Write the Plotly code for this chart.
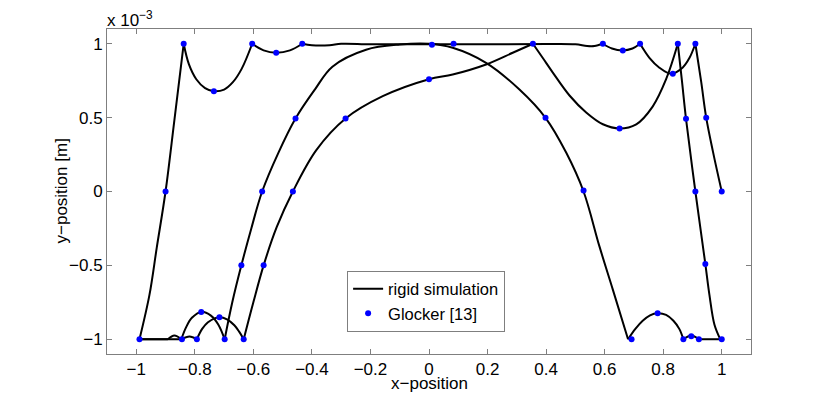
import plotly.graph_objects as go

# trajectories (x, y in 1e-3 m); each flight between impacts is a separate segment
t1_x = [[-0.989, -0.955, -0.93, -0.9, -0.87, -0.838],
        [-0.838, -0.82, -0.795, -0.765, -0.735, -0.70, -0.67, -0.64, -0.604],
        [-0.604, -0.565, -0.522, -0.475, -0.433],
        [-0.433, -0.40, -0.34, -0.30, -0.20, 0.0, 0.20, 0.40, 0.50, 0.54, 0.565, 0.594],
        [0.594, 0.625, 0.662, 0.695, 0.721],
        [0.721, 0.753, 0.787, 0.827, 0.867, 0.89, 0.91],
        [0.91, 0.93, 0.947, 0.97, 1.0]]
t1_y = [[-1, -0.70, -0.38, 0.0, 0.48, 1],
        [1, 0.86, 0.76, 0.70, 0.679, 0.69, 0.74, 0.83, 1],
        [1, 0.955, 0.939, 0.955, 1],
        [1, 0.99, 0.99, 1.0, 0.997, 0.997, 0.997, 0.998, 0.996, 0.985, 0.985, 1],
        [1, 0.968, 0.955, 0.968, 1],
        [1, 0.905, 0.838, 0.797, 0.84, 0.905, 1],
        [1, 0.74, 0.50, 0.27, 0.0]]

t2_x = [[-0.989, -0.892],
        [-0.892, -0.87, -0.846],
        [-0.846, -0.83, -0.81, -0.778, -0.745, -0.72, -0.698],
        [-0.698, -0.672, -0.641, -0.607, -0.57, -0.515, -0.456, -0.39, -0.33, -0.215,
         -0.10, 0.0, 0.081, 0.195, 0.309, 0.398, 0.469, 0.528, 0.582, 0.628, 0.68],
        [0.68, 0.705, 0.73, 0.755, 0.781, 0.81, 0.835, 0.855, 0.869],
        [0.869, 0.896, 0.922],
        [0.922, 1.0]]
t2_y = [[-1, -1],
        [-1, -0.975, -1],
        [-1, -0.92, -0.855, -0.815, -0.84, -0.90, -1],
        [-1, -0.75, -0.5, -0.25, 0.0, 0.26, 0.494, 0.69, 0.845, 0.96,
         0.995, 1.0, 0.973, 0.871, 0.69, 0.499, 0.262, 0.0, -0.37, -0.664, -1],
        [-1, -0.93, -0.875, -0.838, -0.824, -0.835, -0.875, -0.93, -1],
        [-1, -0.975, -1],
        [-1, -1]]

t3_x = [[-0.989, -0.846],
        [-0.846, -0.818, -0.793],
        [-0.793, -0.775, -0.755, -0.73, -0.716, -0.69, -0.665, -0.648, -0.633],
        [-0.633, -0.60, -0.565, -0.52, -0.465, -0.385, -0.285, -0.158, 0.0, 0.081,
         0.195, 0.286, 0.355],
        [0.355, 0.39, 0.423, 0.48, 0.537, 0.594, 0.651, 0.708, 0.764, 0.81, 0.85],
        [0.85, 0.864, 0.878, 0.91, 0.944, 0.958, 0.975, 0.995]]
t3_y = [[-1, -1],
        [-1, -0.982, -1],
        [-1, -0.93, -0.885, -0.857, -0.851, -0.865, -0.905, -0.95, -1],
        [-1, -0.75, -0.5, -0.24, 0.0, 0.28, 0.494, 0.645, 0.76, 0.792,
         0.86, 0.939, 1],
        [1, 0.90, 0.805, 0.65, 0.535, 0.455, 0.427, 0.455, 0.575, 0.76, 1],
        [1, 0.75, 0.492, 0.0, -0.49, -0.70, -0.90, -1]]

# Glocker [13] reference points
ref_x = [-0.989, -0.9, -0.838, -0.735, -0.604, -0.522, -0.433, 0.01, 0.084, 0.594,
         0.662, 0.721, 0.833, 0.91, 0.947, 1.0,
         -0.844, -0.778, -0.698, -0.641, -0.57, -0.456, 0.398, 0.528, 0.692, 0.781,
         0.869, 0.896, 0.922, 1.0,
         -0.793, -0.716, -0.633, -0.565, -0.465, -0.285, 0.0, 0.355, 0.651, 0.85,
         0.878, 0.91, 0.944]
ref_y = [-1, 0.0, 1, 0.679, 1, 0.939, 1, 0.993, 1, 1,
         0.955, 1, 0.797, 1, 0.499, 0.0,
         -1, -0.815, -1, -0.5, 0.0, 0.494, 0.499, 0.007, -1, -0.824,
         -1, -0.98, -1, -1,
         -1, -0.851, -1, -0.5, 0.0, 0.494, 0.76, 1, 0.427, 1,
         0.492, 0.0, -0.49]

x_ticks = [-1, -0.8, -0.6, -0.4, -0.2, 0, 0.2, 0.4, 0.6, 0.8, 1]
y_ticks = [-1, -0.5, 0, 0.5, 1]


def join(segs):
    out = []
    for s in segs:
        out += list(s) + [None]
    return out


line_x = join(t1_x) + join(t2_x) + join(t3_x)
line_y = join(t1_y) + join(t2_y) + join(t3_y)

AXIS = "#7f7f7f"
FONT = "Liberation Sans, Arial, sans-serif"

fig = go.Figure()
fig.add_trace(go.Scatter(
    x=line_x, y=line_y, mode="lines", name="rigid simulation",
    line=dict(color="black", width=2, shape="spline", smoothing=1.0),
    connectgaps=False,
))
fig.add_trace(go.Scatter(
    x=ref_x, y=ref_y, mode="markers", name="Glocker [13]",
    marker=dict(color="#0000ff", size=6),
))

axis_common = dict(
    showgrid=False, zeroline=False, showline=True, mirror="ticks",
    linecolor=AXIS, linewidth=1, ticks="inside", ticklen=5, tickcolor=AXIS,
    tickfont=dict(size=17, color="black", family=FONT), automargin=False,
)
fig.update_xaxes(range=[-1.1, 1.1], tickvals=x_ticks, **axis_common)
fig.update_yaxes(range=[-1.1, 1.1], tickvals=y_ticks, **axis_common)

# axis titles and the exponent label, placed like the MATLAB original
fig.add_annotation(x=0.5, y=0, xref="paper", yref="paper", yanchor="middle",
                   text="x\u2212position", showarrow=False, yshift=-29,
                   font=dict(size=17, color="black", family=FONT))
fig.add_annotation(x=0, y=0.5, xref="paper", yref="paper", xanchor="center",
                   text="y\u2212position [m]", showarrow=False, textangle=-90, xshift=-46,
                   font=dict(size=17, color="black", family=FONT))
fig.add_annotation(x=0, y=1, xref="paper", yref="paper", xanchor="left", yanchor="bottom",
                   text="x 10<sup>\u22123</sup>", showarrow=False, xshift=-2, yshift=-3,
                   font=dict(size=17, color="black", family=FONT))

# the page body adds an 8 px offset, so margins are reduced by that amount
fig.update_layout(
    width=822, height=391,
    margin=dict(l=99, r=79, t=21, b=45),
    paper_bgcolor="white", plot_bgcolor="white",
    font=dict(family=FONT, size=17, color="black"),
    showlegend=True,
    legend=dict(x=0.4955, y=0.163, xanchor="center", yanchor="middle",
                bgcolor="white", bordercolor=AXIS, borderwidth=1,
                itemwidth=30, tracegroupgap=0, font=dict(size=16.5)),
)

fig.write_html("out.html")
